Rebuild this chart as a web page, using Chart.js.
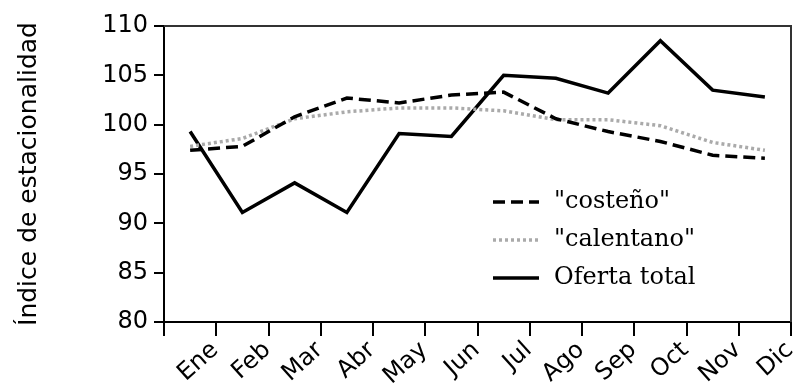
<!DOCTYPE html>
<html>
<head>
<meta charset="utf-8">
<script src="https://cdn.jsdelivr.net/npm/chart.js@4"></script>
<style>
  html, body { margin: 0; padding: 0; background: #fff; }
</style>
</head>
<body>
<canvas id="chart" width="794" height="387"></canvas>
<script>
// Monthly seasonality index
const months = ["Ene", "Feb", "Mar", "Abr", "May", "Jun", "Jul", "Ago", "Sep", "Oct", "Nov", "Dic"];
const costeno = [97.4, 97.8, 100.8, 102.7, 102.2, 103.0, 103.3, 100.6, 99.3, 98.3, 96.9, 96.6];
const calentano = [97.8, 98.6, 100.6, 101.3, 101.7, 101.7, 101.4, 100.5, 100.5, 99.9, 98.2, 97.4];
const ofertaTotal = [99.3, 91.1, 94.1, 91.1, 99.1, 98.8, 105.0, 104.7, 103.2, 108.5, 103.5, 102.8];

const axisFont = { family: "DejaVu Sans", size: 24 };

// top/right frame lines and the legend inside the plot
const framePlugin = {
  id: "frame",
  afterDraw(chart) {
    const { ctx, chartArea: a } = chart;
    ctx.save();
    ctx.strokeStyle = "#333";
    ctx.lineWidth = 2;
    ctx.beginPath();
    ctx.moveTo(a.left, a.top);
    ctx.lineTo(a.right, a.top);
    ctx.lineTo(a.right, a.bottom);
    ctx.stroke();

    const x0 = a.left + 329;
    let y = a.top + 176;
    ctx.font = "24px 'DejaVu Serif'";
    ctx.textBaseline = "middle";
    chart.data.datasets.forEach(ds => {
      ctx.strokeStyle = ds.borderColor;
      ctx.lineWidth = ds.borderWidth;
      ctx.setLineDash(ds.borderDash || []);
      ctx.beginPath();
      ctx.moveTo(x0, y);
      ctx.lineTo(x0 + 46, y);
      ctx.stroke();
      ctx.setLineDash([]);
      ctx.fillStyle = "#000";
      ctx.fillText(ds.label, x0 + 61, y);
      y += 38;
    });
    ctx.restore();
  }
};

new Chart(document.getElementById("chart"), {
  type: "line",
  data: {
    labels: months,
    datasets: [
      {
        label: "\"costeño\"",
        data: costeno,
        borderColor: "#000",
        borderWidth: 3.5,
        borderDash: [12, 6],
        pointRadius: 0,
        tension: 0
      },
      {
        label: "\"calentano\"",
        data: calentano,
        borderColor: "#aaa",
        borderWidth: 3.5,
        borderDash: [3, 3],
        pointRadius: 0,
        tension: 0
      },
      {
        label: "Oferta total",
        data: ofertaTotal,
        borderColor: "#000",
        borderWidth: 3.5,
        pointRadius: 0,
        tension: 0
      }
    ]
  },
  options: {
    responsive: false,
    animation: false,
    layout: { padding: { top: 26, right: 3, left: 0, bottom: 0 } },
    plugins: {
      legend: { display: false },
      tooltip: { enabled: false }
    },
    scales: {
      x: {
        offset: true,
        grid: { offset: true, drawOnChartArea: false, color: "#000", lineWidth: 2, tickLength: 14 },
        border: { color: "#000", width: 2 },
        ticks: {
          color: "#000",
          font: { family: "DejaVu Sans", size: 24 },
          minRotation: 42,
          maxRotation: 42,
          autoSkip: false,
          labelOffset: 25,
          padding: 0
        },
        afterFit(scale) { scale.height = 65; }
      },
      y: {
        min: 80,
        max: 110,
        ticks: { stepSize: 5, color: "#000", font: axisFont, padding: 6 },
        grid: { drawOnChartArea: false, color: "#000", lineWidth: 2, tickLength: 10 },
        border: { color: "#000", width: 2 },
        title: {
          display: true,
          text: "Índice de estacionalidad",
          color: "#000",
          font: { family: "DejaVu Sans", size: 25 },
          padding: { top: 14, bottom: 0 }
        },
        afterFit(scale) { scale.width = 164; }
      }
    }
  },
  plugins: [framePlugin]
});
</script>
</body>
</html>
